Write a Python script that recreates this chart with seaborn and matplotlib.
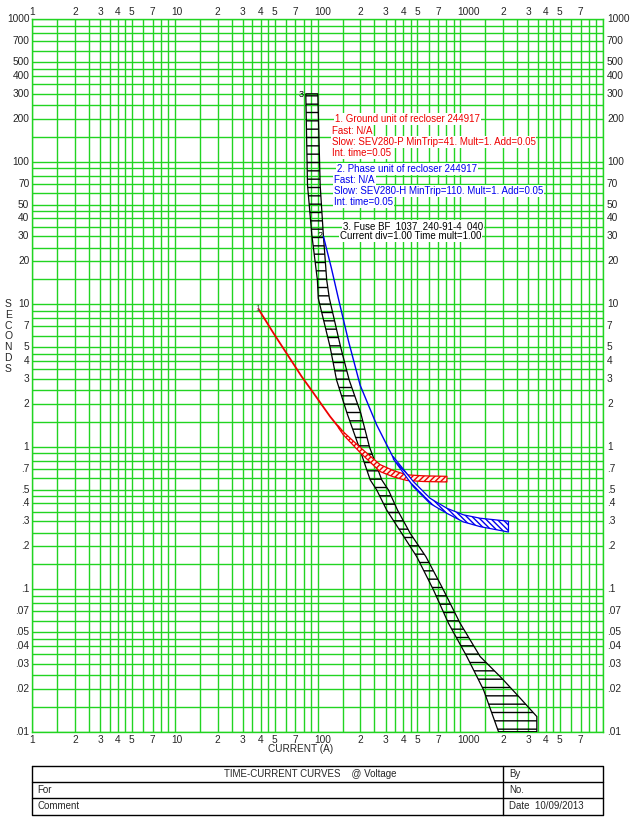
import numpy as np
import pandas as pd
import matplotlib
matplotlib.use("Agg")
import matplotlib.pyplot as plt
import matplotlib.ticker as mticker
import matplotlib.transforms as mtransforms
import seaborn as sns

# ---------------- data (current in A, time in s) ----------------
# 3. Fuse BF_1037 band
fuse_min_current = [82.8, 85.1, 91.3, 99.8, 101.3, 122.4, 136, 161, 195, 234, 260, 305,
                    496, 649, 827, 1112, 1455, 1853]
fuse_min_time = [300, 68.7, 30.6, 14.8, 11.0, 5.04, 2.94, 1.72, 1.0, 0.585, 0.497, 0.36,
                 0.169, 0.0989, 0.0577, 0.0337, 0.0197, 0.01]
fuse_max_current = [100.5, 104.4, 109.9, 116, 121.1, 145, 166.7, 201, 231, 282, 314, 363,
                    446, 575, 743, 998, 1378, 1956, 2629, 3440, 3440]
fuse_max_time = [300, 68.7, 30.6, 14.8, 11.0, 5.04, 2.94, 1.72, 1.0, 0.585, 0.497, 0.36,
                 0.247, 0.169, 0.104, 0.0577, 0.0337, 0.0237, 0.0172, 0.01277, 0.01]

# 1. Ground unit of recloser
ground_line_current = [38.5, 49, 77.6, 88.8, 122.5, 140]
ground_line_time = [9.3, 6.3, 3.1, 2.57, 1.63, 1.38]
ground_band_current = [140, 152, 199, 274, 340, 422, 550, 806]
ground_band_upper = [1.40, 1.27, 0.99, 0.75, 0.68, 0.635, 0.625, 0.62]
ground_band_lower = [1.36, 1.21, 0.91, 0.67, 0.615, 0.58, 0.570, 0.566]

# 2. Phase unit of recloser
phase_line_current = [110, 125, 140, 165, 199, 260, 340]
phase_line_time = [30, 18, 11, 5.5, 2.7, 1.42, 0.835]
phase_band_current = [340, 469, 614, 806, 1050, 1377, 2177]
phase_band_upper = [0.85, 0.57, 0.435, 0.37, 0.333, 0.315, 0.30]
phase_band_lower = [0.82, 0.525, 0.40, 0.341, 0.297, 0.275, 0.252]

# tick labels
x_tick_values = [1, 2, 3, 4, 5, 7, 10, 20, 30, 40, 50, 70, 100, 200, 300, 400, 500, 700,
                 1000, 2000, 3000, 4000, 5000, 7000]
x_tick_labels = ["1", "2", "3", "4", "5", "7", "10", "2", "3", "4", "5", "7", "100",
                 "2", "3", "4", "5", "7", "1000", "2", "3", "4", "5", "7"]
y_tick_values = [1000, 700, 500, 400, 300, 200, 100, 70, 50, 40, 30, 20, 10, 7, 5, 4, 3, 2,
                 1, 0.7, 0.5, 0.4, 0.3, 0.2, 0.1, 0.07, 0.05, 0.04, 0.03, 0.02, 0.01]
y_tick_labels = ["1000", "700", "500", "400", "300", "200", "100", "70", "50", "40", "30",
                 "20", "10", "7", "5", "4", "3", "2", "1", ".7", ".5", ".4", ".3", ".2", ".1",
                 ".07", ".05", ".04", ".03", ".02", ".01"]
grid_subs = [1, 1.5, 2, 2.5, 3, 3.5, 4, 4.5, 5, 6, 7, 8, 9]

ground_text = ["1. Ground unit of recloser 244917", "Fast: N/A",
               "Slow: SEV280-P MinTrip=41. Mult=1. Add=0.05", "Int. time=0.05"]
phase_text = ["2. Phase unit of recloser 244917", "Fast: N/A",
              "Slow: SEV280-H MinTrip=110. Mult=1. Add=0.05", "Int. time=0.05"]
fuse_text = ["3. Fuse BF_1037  240-91-4_040", "Current div=1.00 Time mult=1.00"]

# ---------------- style ----------------
sns.set_style("white")
plt.rcParams['font.family'] = ['Liberation Sans', 'DejaVu Sans']
plt.rcParams['hatch.linewidth'] = 1.0

GREEN = '#22d422'
RED = '#ee0000'
BLUE = '#0000ee'

W, H = 631, 818
fig = plt.figure(figsize=(W / 100, H / 100), dpi=100)
L, R, T, B = 32, 603, 19.3, 731.7
ax = fig.add_axes([L / W, 1 - B / H, (R - L) / W, (B - T) / H])
ax.set_xscale('log')
ax.set_yscale('log')
ax.set_xlim(1, 10000)
ax.set_ylim(0.01, 1000)

gx = [s * 10 ** k for k in range(0, 4) for s in grid_subs] + [10000]
gy = [s * 10 ** k for k in range(-2, 3) for s in grid_subs] + [1000]
ax.xaxis.set_major_locator(mticker.FixedLocator(gx))
ax.yaxis.set_major_locator(mticker.FixedLocator(gy))
ax.xaxis.set_minor_locator(mticker.NullLocator())
ax.yaxis.set_minor_locator(mticker.NullLocator())
ax.tick_params(length=0, labelbottom=False, labelleft=False)
ax.grid(True, color=GREEN, linewidth=1.0)
for sp in ax.spines.values():
    sp.set_color(GREEN)
    sp.set_linewidth(1.0)

# ---------------- tick labels ----------------
fs_tick = 7.3
xt = ax.get_xaxis_transform()
for v, lab in zip(x_tick_values, x_tick_labels):
    ax.text(v, 1, lab, transform=mtransforms.offset_copy(xt, fig=fig, x=-3, y=7.6, units='dots'),
            ha='left', va='center', fontsize=fs_tick)
    ax.text(v, 0, lab, transform=mtransforms.offset_copy(xt, fig=fig, x=-3, y=-8.3, units='dots'),
            ha='left', va='center', fontsize=fs_tick)
yt = ax.get_yaxis_transform()
for v, lab in zip(y_tick_values, y_tick_labels):
    ax.text(0, v, lab, transform=mtransforms.offset_copy(yt, fig=fig, x=-2.7, y=0, units='dots'),
            ha='right', va='center', fontsize=fs_tick)
    ax.text(1, v, lab, transform=mtransforms.offset_copy(yt, fig=fig, x=4, y=0, units='dots'),
            ha='left', va='center', fontsize=fs_tick)

# ---------------- curves ----------------
# fuse band
poly_x = fuse_min_current + fuse_max_current[::-1]
poly_y = fuse_min_time + fuse_max_time[::-1]
ax.fill(poly_x, poly_y, facecolor='none', edgecolor='black', hatch='--', linewidth=0.9, zorder=3)

# ground unit
sns.lineplot(x=ground_line_current, y=ground_line_time, ax=ax, color=RED, linewidth=1.3,
             estimator=None, sort=False, zorder=4)
ax.fill_between(ground_band_current, ground_band_lower, ground_band_upper, facecolor='#fff4e6',
                edgecolor=RED, hatch='//////', linewidth=0.9, zorder=4)

# phase unit
sns.lineplot(x=phase_line_current, y=phase_line_time, ax=ax, color=BLUE, linewidth=1.0,
             estimator=None, sort=False, zorder=5)
ax.fill_between(phase_band_current, phase_band_lower, phase_band_upper, facecolor='white',
                edgecolor=BLUE, hatch='\\\\\\\\\\\\', linewidth=0.9, zorder=5)


def to_ax(px, py):
    return (px - L) / (R - L), (B - py) / (B - T)


# curve numbers
for (px, py, s, c) in [(301, 94.5, "3", 'black'), (320, 236, "2", 'black'), (258, 308, "1", '#555555')]:
    ax.text(*to_ax(px, py), s, transform=ax.transAxes, ha='center', va='center',
            fontsize=6.5, color=c, zorder=6)

fs_ann = 7
bb = dict(facecolor='white', edgecolor='none', pad=0.6)
for (lines, xs, ys, c) in [
    (ground_text, [335, 331.7, 331.7, 331.7], [119.3, 130.7, 142.3, 152.9], RED),
    (phase_text, [337.3, 334.3, 334.3, 334.3], [169.3, 180.2, 191.1, 202], BLUE),
    (fuse_text, [343.3, 340], [225.7, 236.2], 'black'),
]:
    for s, px, py in zip(lines, xs, ys):
        ax.text(*to_ax(px, py), s, transform=ax.transAxes, ha='left', va='center',
                fontsize=fs_ann, color=c, bbox=bb, zorder=7)

# axis titles
for i, ch in enumerate("SECONDS"):
    fig.text(8.3 / W, 1 - (304 + i * 10.8) / H, ch, ha='center', va='center', fontsize=7.5)
fig.text(301 / W, 1 - 749 / H, "CURRENT (A)", ha='center', va='center', fontsize=7.2)

# ---------------- title block ----------------
tb = fig.add_axes([0, 0, 1, 1])
tb.set_xlim(0, W)
tb.set_ylim(H, 0)
tb.axis('off')
top, r1, r2, bot = 766, 782, 798, 814.5
lk = dict(color='black', linewidth=1.0)
tb.plot([L, R, R, L, L], [top, top, bot, bot, top], **lk)
tb.plot([L, R], [r1, r1], **lk)
tb.plot([L, R], [r2, r2], **lk)
tb.plot([503, 503], [top, bot], **lk)
ft = 7
tb.text(310, (top + r1) / 2, "TIME-CURRENT CURVES    @ Voltage", ha='center', va='center', fontsize=ft)
tb.text(509, (top + r1) / 2, "By", ha='left', va='center', fontsize=ft)
tb.text(37, (r1 + r2) / 2, "For", ha='left', va='center', fontsize=ft)
tb.text(509, (r1 + r2) / 2, "No.", ha='left', va='center', fontsize=ft)
tb.text(37, (r2 + bot) / 2, "Comment", ha='left', va='center', fontsize=ft)
tb.text(509, (r2 + bot) / 2, "Date  10/09/2013", ha='left', va='center', fontsize=ft)

fig.savefig("out.png", dpi=100)
